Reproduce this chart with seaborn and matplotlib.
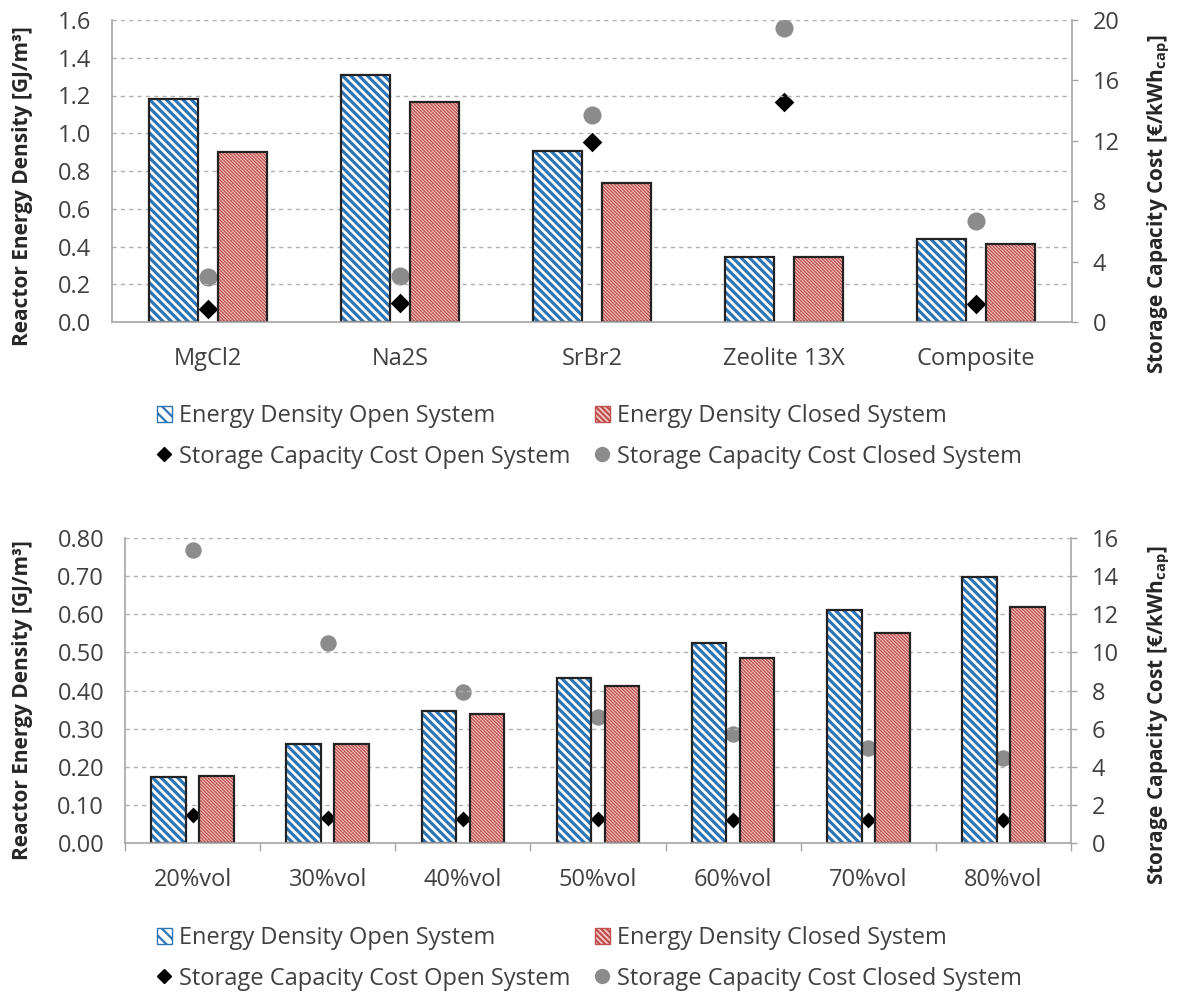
import numpy as np
import pandas as pd
import matplotlib
matplotlib.use("Agg")
import matplotlib.pyplot as plt
import seaborn as sns
from matplotlib.patches import Patch
from matplotlib.lines import Line2D
from matplotlib.ticker import FormatStrFormatter

# values
materials = ["MgCl2", "Na2S", "SrBr2", "Zeolite 13X", "Composite"]
dens_open_mat = [1.18, 1.31, 0.906, 0.344, 0.44]
dens_closed_mat = [0.90, 1.165, 0.736, 0.344, 0.413]
cost_open_mat = [0.86, 1.26, 11.9, 14.6, 1.2]
cost_closed_mat = [3.0, 3.05, 13.7, 19.5, 6.7]

fractions = ["20%vol", "30%vol", "40%vol", "50%vol", "60%vol", "70%vol", "80%vol"]
dens_open_frac = [0.174, 0.26, 0.347, 0.434, 0.524, 0.61, 0.697]
dens_closed_frac = [0.177, 0.26, 0.339, 0.413, 0.484, 0.55, 0.618]
cost_open_frac = [1.45, 1.33, 1.25, 1.25, 1.2, 1.2, 1.2]
cost_closed_frac = [15.37, 10.47, 7.9, 6.6, 5.74, 5.0, 4.47]

series_names = ["Energy Density Open System", "Energy Density Closed System",
                "Storage Capacity Cost Open System", "Storage Capacity Cost Closed System"]

BLUE = "#2e75b6"
RED = "#c0504d"
PINK = "#f5d0cf"
GREY = "#8c8c8c"
AXCOL = "#a6a6a6"
TXT = "#404040"
HATCH_OPEN = "\\" * 4
HATCH_CLOSED = "\\" * 10

sns.set_style("white")
plt.rcParams["font.family"] = ["Open Sans", "DejaVu Sans"]
plt.rcParams["mathtext.fontset"] = "custom"
plt.rcParams["mathtext.rm"] = "Open Sans"
plt.rcParams["mathtext.bf"] = "Open Sans:bold"
plt.rcParams["mathtext.it"] = "Open Sans:italic"
plt.rcParams["hatch.linewidth"] = 1.6

FS = 17
LFS = 15


def panel(fig, rect, cats, d_open, d_closed, c_open, c_closed,
          ymax, ystep, yfmt, cmax, cstep, dsize, csize, xticks,
          ylab_x, ylab_y, clab_x, clab_y):
    ax = fig.add_axes(rect)
    n = len(cats)
    df = pd.DataFrame({"cat": cats * 2,
                       "val": d_open + d_closed,
                       "sys": ["open"] * n + ["closed"] * n})
    sns.barplot(data=df, x="cat", y="val", hue="sys", palette=["white", PINK],
                saturation=1, width=0.71, gap=0.28, errorbar=None,
                linewidth=0, legend=False, ax=ax)
    for bar in ax.containers[0]:
        bar.set_hatch(HATCH_OPEN)
        bar.set_edgecolor(BLUE)
        bar.set_linewidth(0)
        if hasattr(bar, "set_hatch_linewidth"):
            bar.set_hatch_linewidth(2.3)
    for bar in ax.containers[1]:
        bar.set_hatch(HATCH_CLOSED)
        bar.set_edgecolor(RED)
        bar.set_linewidth(0)
        if hasattr(bar, "set_hatch_linewidth"):
            bar.set_hatch_linewidth(1.0)
    # black outlines on top
    sns.barplot(data=df, x="cat", y="val", hue="sys", palette=["#222222", "#222222"],
                saturation=1, width=0.71, gap=0.28, errorbar=None, fill=False,
                linewidth=1.6, legend=False, ax=ax)

    ax2 = ax.twinx()
    xpos = np.arange(n)
    sns.scatterplot(x=xpos, y=c_closed, ax=ax2, color=GREY, s=csize, marker="o",
                    linewidth=0, legend=False)
    sns.scatterplot(x=xpos, y=c_open, ax=ax2, color="black", s=dsize, marker="D",
                    linewidth=0, legend=False)
    ax.set_zorder(ax2.get_zorder() + 1)
    ax.patch.set_visible(False)

    ax.set_xlim(-0.5, n - 0.5)
    ax.set_ylim(0, ymax)
    ax.set_yticks(np.arange(0, ymax + ystep / 2, ystep))
    ax.yaxis.set_major_formatter(FormatStrFormatter(yfmt))
    ax2.set_ylim(0, cmax)
    ax2.set_yticks(np.arange(0, cmax + cstep / 2, cstep))

    ax.yaxis.grid(True, linestyle=(0, (3, 3)), color="#b0b0b0", linewidth=1)
    ax.xaxis.grid(False)
    ax.set_axisbelow(True)

    for s in ["top", "right"]:
        ax.spines[s].set_visible(False)
    for s in ["left", "bottom"]:
        ax.spines[s].set_color(AXCOL)
        ax.spines[s].set_linewidth(1.2)
    for s in ["top", "left", "bottom"]:
        ax2.spines[s].set_visible(False)
    ax2.spines["right"].set_color(AXCOL)
    ax2.spines["right"].set_linewidth(1.2)

    ax.tick_params(axis="y", length=0, pad=15, labelsize=FS, labelcolor=TXT)
    ax.tick_params(axis="x", which="major", length=0, pad=18, labelsize=FS, labelcolor=TXT)
    ax2.tick_params(axis="y", length=4, width=1, color=AXCOL, direction="out", pad=11,
                    labelsize=FS, labelcolor=TXT)
    if xticks:
        ax.set_xticks(np.arange(-0.5, n, 1), minor=True)
        ax.tick_params(axis="x", which="minor", length=6, width=1, color=AXCOL,
                       direction="out", bottom=True)

    ax.set_xlabel("")
    ax.set_ylabel("Reactor Energy Density [GJ/m³]", fontsize=LFS, fontweight="bold",
                  color="#262626")
    ax.yaxis.set_label_coords(ylab_x, ylab_y)
    ax2.set_ylabel(r"Storage Capacity Cost [€/kWh$_{\mathbf{cap}}$]", fontsize=LFS,
                   fontweight="bold", color="#262626")
    ax2.yaxis.set_label_coords(clab_x, clab_y)
    return ax, ax2


fig = plt.figure(figsize=(11.8, 10.02), dpi=100)
W, H = 1180, 1002

panel(fig, [112 / W, 1 - 322 / H, 960 / W, 302 / H], materials,
      dens_open_mat, dens_closed_mat, cost_open_mat, cost_closed_mat,
      1.6, 0.2, "%.1f", 20, 4, 100, 170, False,
      (33 - 112) / 960, 0.45, (1146 - 112) / 960, 0.39)
panel(fig, [125 / W, 1 - 843 / H, 946 / W, 305 / H], fractions,
      dens_open_frac, dens_closed_frac, cost_open_frac, cost_closed_frac,
      0.8, 0.1, "%.2f", 16, 2, 65, 140, True,
      (33 - 125) / 946, 0.47, (1146 - 125) / 946, 0.42)

h_open = Patch(facecolor="white", edgecolor=BLUE, hatch="\\\\\\", linewidth=1)
h_closed = Patch(facecolor=PINK, edgecolor=RED, hatch="\\\\\\\\\\\\", linewidth=1)
h_dia = Line2D([], [], marker="D", color="black", linestyle="None", markersize=7)
h_circ = Line2D([], [], marker="o", color=GREY, linestyle="None", markersize=10)

legend_kw = dict(loc="upper left", frameon=False, fontsize=FS, labelcolor=TXT,
                 handlelength=0.62, handleheight=0.65, handletextpad=0.3,
                 labelspacing=0.7, borderpad=0, borderaxespad=0)
for ytop in [404, 926]:
    fig.legend(handles=[h_open, h_dia], labels=[series_names[0], series_names[2]],
               bbox_to_anchor=(157 / W, 1 - ytop / H), **legend_kw)
    fig.legend(handles=[h_closed, h_circ], labels=[series_names[1], series_names[3]],
               bbox_to_anchor=(595 / W, 1 - ytop / H), **legend_kw)

fig.savefig("out.png", dpi=100)
